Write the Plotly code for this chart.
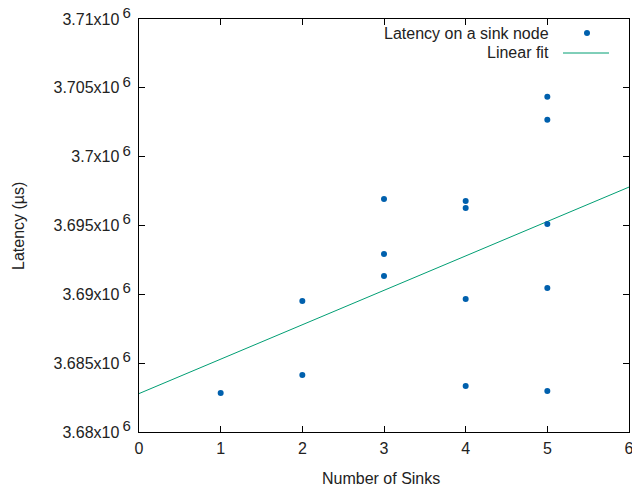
import numpy as np
import plotly.graph_objects as go

sinks = [1, 2, 2, 3, 3, 3, 4, 4, 4, 4, 5, 5, 5, 5, 5]
latency = [3682834, 3689520, 3684142, 3696933, 3692936, 3691337,
           3696788, 3696279, 3689666, 3683343,
           3704346, 3702674, 3695116, 3690465, 3682980]

y_ticks = [3.68e6, 3.685e6, 3.69e6, 3.695e6, 3.7e6, 3.705e6, 3.71e6]
y_labels = ["3.68", "3.685", "3.69", "3.695", "3.7", "3.705", "3.71"]
x_ticks = [0, 1, 2, 3, 4, 5, 6]

slope, intercept = np.polyfit(sinks, latency, 1)
fit_x = [0, 6]
fit_y = [intercept + slope * v for v in fit_x]

BLUE = "#0060ad"
GREEN = "#009e73"
FONT = "Liberation Sans, Arial, sans-serif"
FS = 16
TXT = "#222"

fig = go.Figure()
fig.add_trace(go.Scatter(x=fit_x, y=fit_y, mode="lines",
                         line=dict(color=GREEN, width=1), showlegend=False))
fig.add_trace(go.Scatter(x=sinks, y=latency, mode="markers",
                         marker=dict(color=BLUE, size=6, symbol="circle"),
                         showlegend=False))

axis_common = dict(showline=True, linecolor="black", linewidth=1, mirror="ticks",
                   ticks="inside", ticklen=6, tickcolor="black", showgrid=False,
                   zeroline=False, tickfont=dict(family=FONT, size=FS, color=TXT),
                   ticklabeloverflow="allow", automargin=False)

fig.update_xaxes(range=[0, 6], tickvals=x_ticks, ticktext=[str(v) for v in x_ticks],
                 ticklabelstandoff=2, **axis_common)
fig.update_yaxes(range=[3.68e6, 3.71e6], tickvals=y_ticks,
                 ticktext=[f"{t}x10<sup> <span style='font-size:15px'>6</span></sup>" for t in y_labels],
                 ticklabelstandoff=4, **axis_common)

W, H = 632, 490
L, R, T, B = 139, 3, 19, 58
pw, ph = W - L - R, H - T - B

def px(xp):
    return (xp - L) / pw

def py(yp):
    return 1 - (yp - T) / ph

# axis titles
fig.add_annotation(x=px(18), y=py(226), xref="x domain", yref="y domain", showarrow=False,
                   text="Latency (µs)", textangle=-90, xanchor="center", yanchor="middle",
                   font=dict(family=FONT, size=FS, color=TXT))
fig.add_annotation(x=px(381), y=py(478), xref="x domain", yref="y domain", showarrow=False,
                   text="Number of Sinks", xanchor="center", yanchor="middle",
                   font=dict(family=FONT, size=FS, color=TXT))

# legend (gnuplot style: text right-aligned, sample on the right)
fig.add_annotation(x=px(551), y=py(33), xref="x domain", yref="y domain", showarrow=False,
                   text="Latency on a sink node", xanchor="right", yanchor="middle",
                   font=dict(family=FONT, size=FS, color=TXT))
fig.add_annotation(x=px(551), y=py(53), xref="x domain", yref="y domain", showarrow=False,
                   text="Linear fit", xanchor="right", yanchor="middle",
                   font=dict(family=FONT, size=FS, color=TXT))
fig.add_shape(type="circle", xref="x domain", yref="y domain",
              x0=px(584), x1=px(590), y0=py(30), y1=py(36),
              fillcolor=BLUE, line=dict(color=BLUE, width=0))
fig.add_shape(type="line", xref="x domain", yref="y domain",
              x0=px(563), x1=px(609), y0=py(53), y1=py(53),
              line=dict(color=GREEN, width=1))

fig.update_layout(width=W, height=H,
                  margin=dict(l=L, r=R, t=T, b=B, autoexpand=False),
                  plot_bgcolor="white", paper_bgcolor="white",
                  font=dict(family=FONT, size=FS, color=TXT), showlegend=False)

fig.write_html("out.html")
